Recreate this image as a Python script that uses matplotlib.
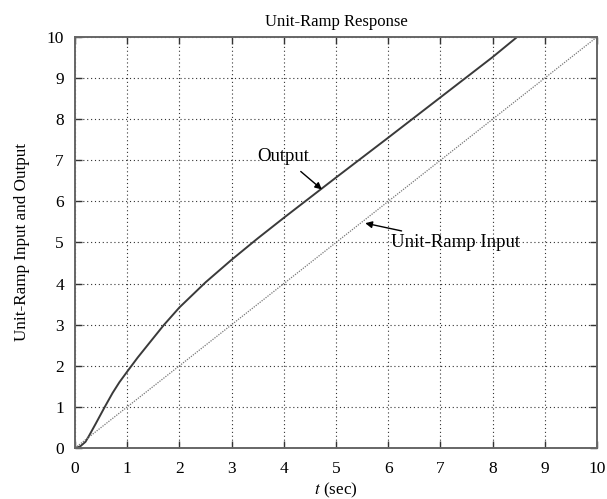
import numpy as np
from matplotlib import pyplot as plt

plt.rcParams['font.family'] = ['Liberation Serif', 'DejaVu Serif']
plt.rcParams['mathtext.fontset'] = 'stix'

# unit-ramp input
t_in = [0, 10]
r_in = [0, 10]

# output
t_out = [0, 0.1, 0.2, 0.27, 0.4, 0.57, 0.72, 0.85, 1.0, 1.2, 1.44, 1.7, 2.0, 2.5,
         3.0, 3.5, 4.0, 4.5, 5.0, 6.0, 7.0, 8.0, 8.47]
c_out = [0, 0.04, 0.15, 0.3, 0.6, 1.0, 1.34, 1.6, 1.86, 2.2, 2.58, 2.99, 3.42, 4.03,
         4.58, 5.1, 5.6, 6.09, 6.58, 7.55, 8.53, 9.51, 10.0]

xticks = list(range(0, 11))
yticks = list(range(0, 11))

fig = plt.figure(figsize=(6.07, 4.99), dpi=100)
ax = fig.add_axes([0.1236, 0.1022, 0.8599, 0.8237])

ax.plot(t_out, c_out, color='#3a3a3a', lw=1.4)
ax.plot(t_in, r_in, color='#777777', lw=0.9, ls=(0, (1, 1)))

ax.set_xlim(0, 10)
ax.set_ylim(0, 10)
ax.set_xticks(xticks)
ax.set_yticks(yticks)
ax.grid(True, color='#333333', ls=(0, (1, 2.5)), lw=0.8)
ax.tick_params(direction='in', length=5, width=1, top=True, right=True,
               labelsize=12.5, color='#333333')
ax.tick_params(axis='x', pad=9)
ax.tick_params(axis='y', pad=8)
for s in ax.spines.values():
    s.set_color('#666666')
    s.set_linewidth(1.4)

ax.set_title('Unit-Ramp Response', fontsize=12, pad=8)
ax.set_xlabel(r'$t$ (sec)', fontsize=12.3, labelpad=3)
ax.set_ylabel('Unit-Ramp Input and Output', fontsize=12.3, labelpad=12)

ax.annotate('Output', xy=(4.73, 6.29), xytext=(3.99, 7.09),
            ha='center', va='center', fontsize=13.5,
            arrowprops=dict(arrowstyle='-|>', color='k', lw=1.0,
                            mutation_scale=10, shrinkA=4, shrinkB=0))
ax.annotate('Unit-Ramp Input', xy=(5.56, 5.47), xytext=(6.06, 5.0),
            ha='left', va='center', fontsize=13.5,
            arrowprops=dict(arrowstyle='-|>', color='k', lw=1.0,
                            mutation_scale=10, shrinkA=1, shrinkB=0))

fig.savefig('out.png', dpi=100)
